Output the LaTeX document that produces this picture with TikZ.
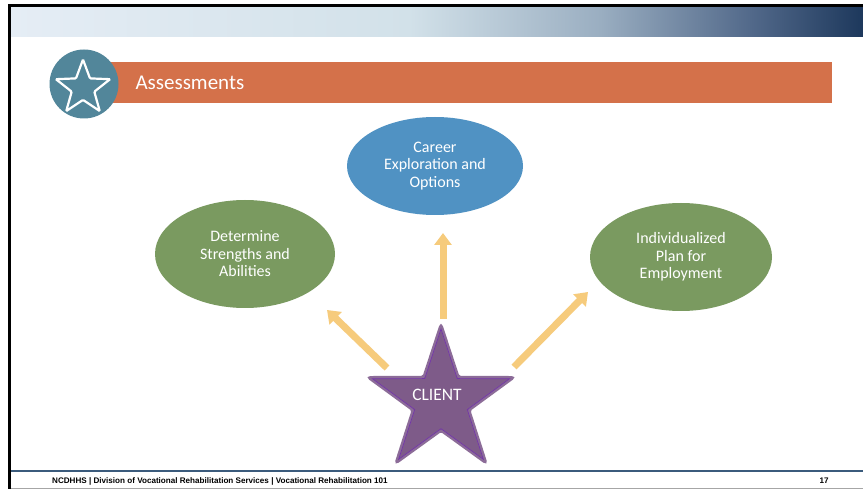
\documentclass[tikz,border=0pt]{standalone}
\usepackage{fontspec}
\setmainfont{Carlito}
\newfontfamily\footfont{Liberation Sans}
\usetikzlibrary{shapes.geometric,arrows.meta}
\definecolor{orangebar}{HTML}{D4714A}
\definecolor{iconblue}{HTML}{52869A}
\definecolor{ovalblue}{HTML}{5092C3}
\definecolor{ovalgreen}{HTML}{7A9A60}
\definecolor{arrowgold}{HTML}{F6CB7C}
\definecolor{starfill}{HTML}{7E5B89}
\definecolor{staredge}{HTML}{8C6C98}
\definecolor{starline}{HTML}{7336A8}
\definecolor{bandA}{HTML}{E5EDF5}
\definecolor{bandB}{HTML}{D2E1E9}
\definecolor{bandC}{HTML}{9AAEC1}
\definecolor{bandD}{HTML}{52698A}
\definecolor{bandE}{HTML}{1D385C}
\definecolor{footblue}{HTML}{3B5B7C}
\definecolor{footgray}{HTML}{A6A6A6}
\pgfdeclarehorizontalshading{bandshade}{100bp}{color(0bp)=(bandA); color(25bp)=(bandA); color(48.4bp)=(bandB); color(59.6bp)=(bandC); color(68.4bp)=(bandD); color(75bp)=(bandE); color(100bp)=(bandE)}
\begin{document}
\begin{tikzpicture}[x=1pt,y=-1pt,
  oval/.style={ellipse, inner sep=0pt, text=white, align=center, font=\fontsize{16}{17.5}\selectfont},
  flow/.style={draw=arrowgold, line width=7pt, -{Triangle[width=17pt,length=12pt,fill=arrowgold]}},
  starshape/.style={star, star points=5, star point ratio=2.6, inner sep=0pt},
  foottext/.style={inner sep=0pt, font=\footfont\bfseries\fontsize{8.1}{9}\selectfont}]
\useasboundingbox (0,0) rectangle (863,489);
\fill[white] (0,0) rectangle (863,489);
% header band and frame
\shade[shading=bandshade] (10,7) rectangle (863,37);
\fill[black] (8,4) rectangle (863,7);
\fill[black] (8,4) rectangle (11,489);
\draw[footblue, line width=1.5pt] (11,471) -- (863,471);
\draw[footgray, line width=1pt] (11,488) -- (863,488);
% title bar
\fill[orangebar] (110,62) rectangle (832,103);
\node[circle, fill=iconblue, minimum size=69pt, inner sep=0pt] (icon) at (84,84) {};
\node[starshape, star point ratio=2.4, minimum size=57pt, draw=white, line width=2.2pt, rounded corners=1pt] (iconstar) at (83,88) {};
\node[anchor=west, text=white, font=\fontsize{21}{25}\selectfont] (title) at (132,83) {Assessments};
% ovals
\node[oval, fill=ovalblue, minimum width=176pt, minimum height=98pt] (career) at (435,166) {Career\\Exploration and\\Options};
\node[oval, fill=ovalgreen, minimum width=180pt, minimum height=108pt] (strengths) at (245,254) {Determine\\Strengths and\\Abilities};
\node[oval, fill=ovalgreen, minimum width=182pt, minimum height=108pt] (plan) at (681,257) {Individualized\\Plan for\\Employment};
% client star
\node[starshape, minimum size=152pt, fill=starfill, draw=staredge, line width=3pt, rounded corners=2pt] (client) at (441,401) {};
\node[starshape, minimum size=144pt, draw=starline, line width=0.7pt] (clientline) at (441,401) {};
\node[text=white, font=\fontsize{17.5}{20}\selectfont] (clientlabel) at (437,395) {CLIENT};
% arrows
\coordinate (tL) at (387,368); \coordinate (hL) at (327,310);
\coordinate (tM) at (443,319); \coordinate (hM) at (443,233);
\coordinate (tR) at (514,367); \coordinate (hR) at (588,292);
\draw[flow] (tL) -- (hL);
\draw[flow] (tM) -- (hM);
\draw[flow] (tR) -- (hR);
% footer
\node[foottext, anchor=west] (foot) at (52,481) {NCDHHS | Division of Vocational Rehabilitation Services | Vocational Rehabilitation 101};
\node[foottext] (page) at (824,481) {17};
\end{tikzpicture}
\end{document}
